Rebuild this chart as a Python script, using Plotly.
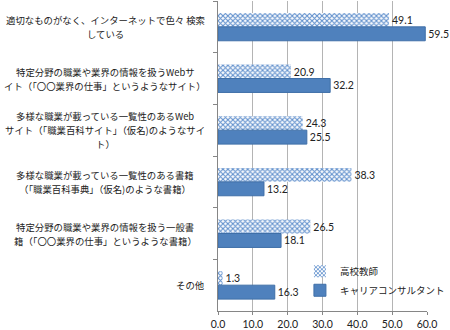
import plotly.graph_objects as go

categories = [
    "適切なものがなく、インターネットで色々 検索<br>している",
    "特定分野の職業や業界の情報を扱うWebサ<br>イト（「〇〇業界の仕事」というようなサイト）",
    "多様な職業が載っている一覧性のあるWeb<br>サイト（「職業百科サイト」（仮名)のようなサイ<br>ト）",
    "多様な職業が載っている一覧性のある書籍<br>（「職業百科事典」（仮名)のような書籍）",
    "特定分野の職業や業界の情報を扱う一般書<br>籍（「〇〇業界の仕事」というような書籍）",
    "その他",
]
teachers = [49.1, 20.9, 24.3, 38.3, 26.5, 1.3]
consultants = [59.5, 32.2, 25.5, 13.2, 18.1, 16.3]
x_ticks = [0, 10, 20, 30, 40, 50, 60]

cjk = "Noto Sans CJK JP"
num_font = "Lato"
blue = "#4F81BD"
label_size = 9.4
line_gap = 14  # px between wrapped label lines

fig = go.Figure()
fig.add_trace(go.Bar(
    y=categories, x=teachers, orientation="h", name="高校教師",
    marker=dict(color="white", line=dict(width=0),
                pattern=dict(shape="x", fgcolor="#5B8CCB", bgcolor="white",
                             size=3.5, solidity=0.5, fillmode="replace")),
    text=[f"{v:.1f}" for v in teachers], textposition="outside",
    textfont=dict(family=num_font, size=10.5, color="#222"),
    constraintext="none", cliponaxis=False,
))
fig.add_trace(go.Bar(
    y=categories, x=consultants, orientation="h", name="キャリアコンサルタント",
    marker=dict(color=blue, line=dict(color="#3F6FA8", width=1)),
    text=[f"{v:.1f}" for v in consultants], textposition="outside",
    textfont=dict(family=num_font, size=10.5, color="#222"),
    constraintext="none", cliponaxis=False,
))

# category labels: wrapped lines centred on one another; a single line sits
# flush against the axis
for c in categories:
    lines = c.split("<br>")
    n = len(lines)
    for i, line in enumerate(lines):
        common = dict(xref="paper", y=c, yref="y", yanchor="middle",
                      yshift=((n - 1) / 2 - i) * line_gap, showarrow=False,
                      text=line, font=dict(family=cjk, size=label_size, color="#222"))
        if n == 1:
            fig.add_annotation(x=0, xanchor="right", xshift=-11, **common)
        else:
            fig.add_annotation(x=0, xanchor="center", xshift=-113, **common)

# white backing behind the legend (hides gridlines, keeps bar labels visible)
fig.add_shape(type="rect", xref="paper", yref="paper", layer="below",
              x0=0.45, x1=1.05, y0=0.05, y1=0.16,
              fillcolor="white", line=dict(width=0))

fig.update_layout(
    width=450, height=330,
    margin=dict(l=218, r=23, t=1, b=19, autoexpand=False),
    paper_bgcolor="white", plot_bgcolor="white",
    barmode="group", bargap=0.46, bargroupgap=0,
    showlegend=True,
    legend=dict(x=0.392, y=0.175, xanchor="left", yanchor="top",
                bgcolor="rgba(0,0,0,0)",
                font=dict(family=cjk, size=9.5, color="#222"),
                itemwidth=30, tracegroupgap=0),
    xaxis=dict(range=[0, 60], tickvals=x_ticks,
               ticktext=[f"{v:.1f}" for v in x_ticks],
               showgrid=True, gridcolor="#B4B4B4", gridwidth=1.3,
               showline=True, linecolor="#868686", linewidth=1,
               ticks="outside", ticklen=3, tickcolor="#868686",
               tickfont=dict(family=num_font, size=10.5, color="#222"),
               zeroline=False, fixedrange=True),
    yaxis=dict(autorange="reversed", showticklabels=False,
               showline=True, linecolor="#868686", linewidth=1,
               ticks="outside", ticklen=4, tickcolor="#868686",
               tickson="boundaries", showgrid=False, fixedrange=True),
)

fig.write_html("out.html")
